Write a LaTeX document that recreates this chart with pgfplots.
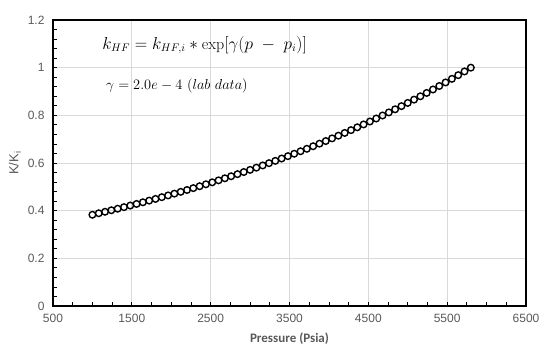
\documentclass[border=0pt]{standalone}
\usepackage{pgfplots}
\pgfplotsset{compat=1.18}
\usepackage{fontspec}
\newfontfamily\arial{Liberation Sans}
\newfontfamily\calib{Carlito}
\definecolor{txtgray}{HTML}{595959}
\definecolor{gridgray}{HTML}{D9D9D9}
\pgfplotstableread{
p k
1000 0.38289
1080 0.38907
1160 0.39534
1240 0.40172
1320 0.40820
1400 0.41478
1480 0.42147
1560 0.42827
1640 0.43518
1720 0.44220
1800 0.44933
1880 0.45658
1960 0.46394
2040 0.47142
2120 0.47903
2200 0.48675
2280 0.49460
2360 0.50258
2440 0.51069
2520 0.51892
2600 0.52729
2680 0.53580
2760 0.54444
2840 0.55322
2920 0.56214
3000 0.57121
3080 0.58042
3160 0.58978
3240 0.59930
3320 0.60896
3400 0.61878
3480 0.62876
3560 0.63890
3640 0.64921
3720 0.65968
3800 0.67032
3880 0.68113
3960 0.69212
4040 0.70328
4120 0.71462
4200 0.72615
4280 0.73786
4360 0.74976
4440 0.76185
4520 0.77414
4600 0.78663
4680 0.79931
4760 0.81221
4840 0.82531
4920 0.83862
5000 0.85214
5080 0.86589
5160 0.87985
5240 0.89404
5320 0.90846
5400 0.92312
5480 0.93801
5560 0.95313
5640 0.96851
5720 0.98413
5800 1.00000
}\datatable
\begin{document}
\begin{tikzpicture}
\begin{axis}[
  scale only axis,
  width=473pt, height=286pt,
  xmin=500, xmax=6500, ymin=0, ymax=1.2,
  xtick={500,1500,...,6500},
  ytick={0,0.2,...,1.2},
  minor x tick num=3,
  minor y tick num=4,
  tick align=inside,
  xtick pos=bottom, ytick pos=left,
  major tick length=4pt, minor tick length=4pt,
  tick style={black, line width=0.8pt},
  axis line style={black, line width=2pt},
  grid=major,
  major grid style={gridgray, line width=1pt},
  /pgf/number format/assume math mode=true,
  /pgf/number format/1000 sep={},
  yticklabel style={/pgf/number format/fixed, /pgf/number format/precision=1, font=\arial\fontsize{12}{14}\selectfont, text=txtgray, xshift=-5pt},
  xticklabel style={font=\arial\fontsize{12}{14}\selectfont, text=txtgray, yshift=-5pt},
  xlabel={\calib\bfseries Pressure (Psia)},
  xlabel style={font=\fontsize{13}{15}\selectfont, text=txtgray, yshift=-3pt},
  ylabel={\arial K/K\textsubscript{i}},
  ylabel style={font=\fontsize{13}{15}\selectfont, text=txtgray, yshift=0pt},
]
\addplot[only marks, mark=o, mark size=3.3pt, mark options={line width=1.4pt, fill=white, draw=black}] table[x=p, y=k] {\datatable};
\node[anchor=west, font=\fontsize{16}{18}\selectfont] at (axis cs:1080,1.095) {$k_{HF} = k_{HF,i} * \exp[\gamma(p\; - \;p_i)]$};
\node[anchor=west, font=\fontsize{14}{16}\selectfont] at (axis cs:1130,0.925) {$\gamma = 2.0e - 4\ (lab\ data)$};
\end{axis}
\useasboundingbox ([shift={(-53pt,-50pt)}]current axis.south west) rectangle ([shift={(24pt,20pt)}]current axis.north east);
\end{tikzpicture}
\end{document}
